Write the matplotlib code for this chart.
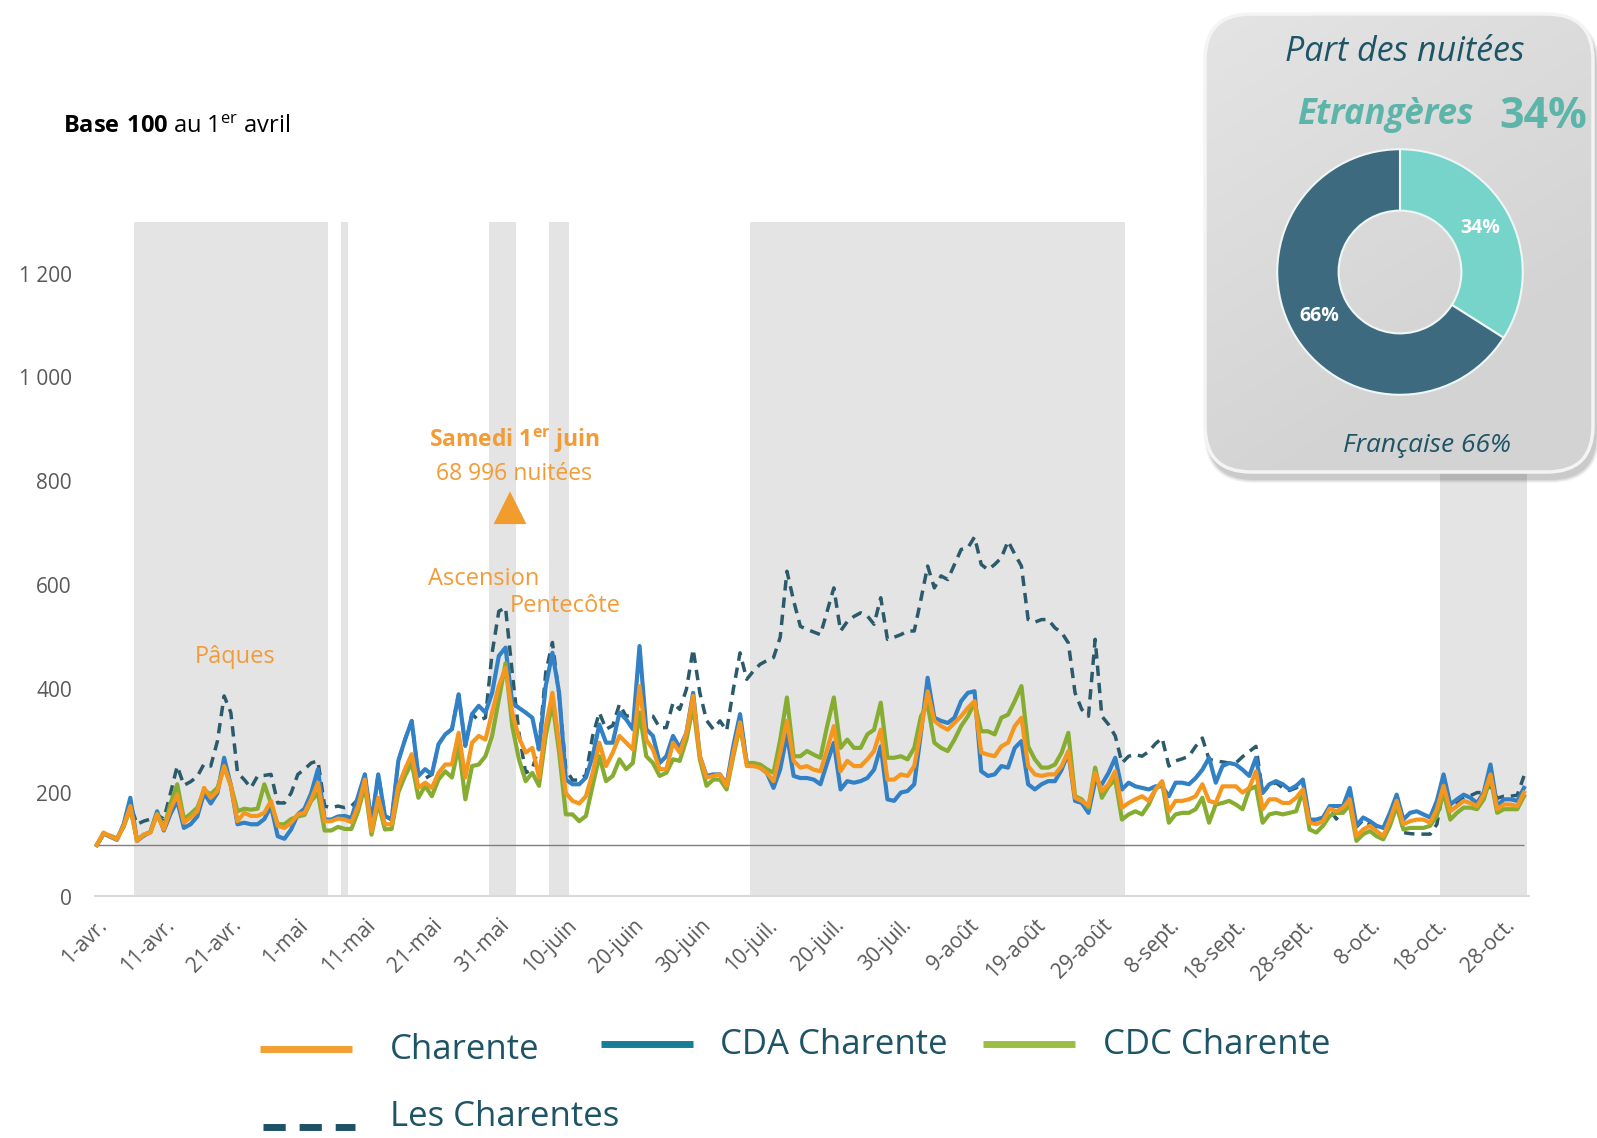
import numpy as np
import matplotlib.pyplot as plt
from matplotlib import font_manager
from matplotlib.lines import Line2D
from matplotlib.patches import FancyBboxPatch

# daily index, base 100 on 1 April (1-avr. .. 31-oct.)
CHARENTE = [
    100, 124, 117, 111, 137, 175, 108, 120, 124, 159,
    130, 169, 197, 143, 153, 165, 210, 191, 204, 252,
    214, 146, 162, 156, 156, 162, 185, 137, 133, 143,
    159, 162, 188, 220, 146, 146, 151, 149, 144, 175,
    226, 127, 191, 140, 140, 214, 246, 275, 210, 220,
    210, 239, 255, 255, 316, 230, 297, 310, 303, 355,
    406, 441, 355, 307, 278, 287, 230, 329, 393, 297,
    200, 185, 180, 194, 239, 297, 252, 278, 310, 297,
    284, 406, 303, 284, 246, 246, 297, 278, 316, 387,
    271, 230, 233, 236, 214, 278, 336, 252, 252, 249,
    239, 223, 278, 339, 262, 249, 252, 245, 242, 284,
    329, 242, 262, 252, 252, 265, 281, 322, 226, 226,
    236, 233, 252, 322, 396, 339, 329, 322, 335, 348,
    364, 377, 278, 274, 271, 290, 297, 329, 345, 252,
    236, 233, 236, 236, 252, 281, 191, 185, 175, 239,
    204, 217, 242, 172, 181, 188, 194, 185, 207, 223,
    165, 185, 185, 188, 194, 217, 185, 181, 213, 213,
    213, 201, 210, 242, 169, 188, 188, 181, 181, 191,
    207, 143, 140, 146, 170, 165, 172, 188, 117, 130,
    137, 127, 117, 149, 185, 140, 146, 149, 149, 143,
    169, 214, 165, 175, 185, 181, 175, 197, 236, 169,
    178, 178, 175, 201,
]
CDA_CHARENTE = [
    100, 122, 116, 110, 140, 191, 108, 118, 125, 165,
    128, 160, 185, 133, 140, 155, 200, 180, 200, 268,
    215, 140, 143, 140, 140, 150, 175, 117, 112, 130,
    159, 170, 200, 246, 149, 149, 155, 156, 152, 194,
    236, 143, 236, 156, 149, 262, 303, 339, 233, 246,
    236, 294, 313, 323, 390, 291, 352, 368, 355, 393,
    464, 480, 374, 364, 355, 345, 284, 406, 470, 393,
    226, 217, 217, 230, 271, 332, 297, 297, 355, 342,
    323, 483, 323, 310, 258, 271, 310, 287, 316, 393,
    271, 233, 236, 236, 217, 291, 352, 258, 255, 249,
    239, 210, 246, 313, 233, 229, 229, 226, 217, 258,
    297, 207, 223, 220, 223, 229, 245, 290, 188, 185,
    201, 204, 217, 316, 422, 345, 339, 335, 345, 377,
    393, 396, 242, 233, 236, 252, 249, 287, 300, 217,
    207, 217, 223, 223, 245, 278, 185, 181, 162, 223,
    217, 239, 268, 207, 220, 213, 210, 207, 213, 213,
    194, 220, 220, 217, 229, 245, 268, 220, 252, 258,
    255, 245, 233, 268, 201, 217, 223, 217, 207, 214,
    226, 149, 149, 153, 175, 175, 175, 210, 137, 153,
    146, 137, 133, 162, 197, 149, 162, 165, 159, 153,
    185, 236, 178, 188, 197, 191, 181, 201, 255, 175,
    188, 188, 185, 210,
]
CDC_CHARENTE = [
    100, 122, 118, 113, 135, 170, 110, 120, 125, 160,
    132, 180, 217, 150, 160, 172, 205, 198, 210, 250,
    215, 165, 170, 168, 170, 217, 180, 140, 140, 150,
    155, 158, 185, 200, 128, 128, 135, 131, 131, 165,
    214, 120, 181, 130, 131, 201, 233, 258, 191, 214,
    194, 226, 242, 230, 291, 188, 252, 255, 271, 310,
    380, 450, 329, 265, 223, 239, 214, 310, 374, 278,
    159, 159, 146, 156, 214, 271, 223, 233, 265, 246,
    258, 355, 271, 258, 233, 239, 265, 262, 303, 368,
    265, 214, 226, 226, 207, 271, 329, 258, 258, 255,
    246, 239, 303, 384, 271, 271, 281, 274, 268, 329,
    384, 287, 303, 287, 287, 313, 322, 374, 268, 268,
    271, 265, 287, 348, 370, 297, 287, 281, 303, 329,
    348, 374, 319, 319, 313, 345, 351, 377, 406, 290,
    265, 249, 249, 255, 278, 316, 194, 188, 172, 249,
    191, 213, 226, 149, 159, 165, 159, 178, 207, 220,
    143, 159, 162, 162, 169, 191, 143, 178, 181, 185,
    178, 169, 207, 213, 143, 159, 162, 159, 162, 165,
    204, 130, 124, 137, 156, 162, 162, 178, 108, 121,
    127, 117, 111, 137, 175, 130, 133, 133, 133, 137,
    156, 201, 149, 162, 172, 172, 169, 188, 230, 162,
    169, 169, 169, 194,
]
LES_CHARENTES = [
    100, 120, 116, 112, 135, 178, 140, 146, 150, 158,
    150, 200, 252, 215, 222, 232, 256, 252, 300, 387,
    355, 239, 226, 210, 233, 234, 236, 181, 181, 200,
    236, 246, 258, 262, 175, 172, 175, 172, 175, 188,
    236, 143, 236, 156, 149, 262, 303, 339, 233, 228,
    236, 294, 313, 323, 390, 291, 352, 340, 345, 470,
    550, 557, 432, 316, 239, 246, 291, 432, 490, 387,
    246, 225, 225, 235, 310, 355, 323, 330, 371, 348,
    350, 355, 350, 348, 326, 326, 374, 361, 400, 477,
    393, 340, 323, 339, 320, 400, 470, 419, 435, 448,
    455, 461, 500, 627, 570, 521, 515, 510, 505, 550,
    595, 512, 530, 540, 547, 541, 525, 576, 496, 500,
    505, 512, 512, 573, 637, 595, 618, 611, 640, 669,
    672, 693, 640, 630, 640, 653, 685, 660, 637, 534,
    529, 534, 534, 518, 509, 489, 393, 361, 348, 496,
    348, 332, 310, 258, 271, 274, 271, 280, 295, 306,
    252, 262, 266, 271, 290, 306, 265, 262, 260, 258,
    258, 270, 280, 290, 200, 215, 220, 210, 205, 210,
    220, 145, 145, 150, 170, 150, 170, 200, 135, 148,
    140, 133, 130, 155, 190, 124, 122, 121, 121, 121,
    140, 210, 170, 180, 190, 195, 201, 201, 215, 190,
    194, 194, 196, 233,
]

# school holidays / bank holiday bridges (first day, last day, as day index)
HOLIDAYS = [(6, 34), (37, 37), (59, 62), (68, 70), (98, 153), (201, 213)]

X_LABELS = ["1-avr.", "11-avr.", "21-avr.", "1-mai", "11-mai", "21-mai",
            "31-mai", "10-juin", "20-juin", "30-juin", "10-juil.", "20-juil.",
            "30-juil.", "9-août", "19-août", "29-août", "8-sept.", "18-sept.",
            "28-sept.", "8-oct.", "18-oct.", "28-oct."]
Y_TICKS = [0, 200, 400, 600, 800, 1000, 1200]
Y_LABELS = ["0", "200", "400", "600", "800", "1 000", "1 200"]

SHARE_LABELS = ["Etrangères", "Française"]
SHARE_VALUES = [34, 66]

W, H = 1597, 1138
TEAL = "#1d5466"
ORANGE_TXT = "#F39C37"


def has_font(name, style="normal"):
    return any(f.name == name and f.style == style
               for f in font_manager.fontManager.ttflist)


NARROW = "Liberation Sans Narrow" if has_font("Liberation Sans Narrow") else "Open Sans"
ITAL = "Open Sans" if has_font("Open Sans", "italic") else "Lato"

plt.rcParams["font.family"] = ["Open Sans", "DejaVu Sans"]
plt.rcParams["mathtext.fontset"] = "custom"
plt.rcParams["mathtext.rm"] = "Open Sans"
plt.rcParams["mathtext.bf"] = "Open Sans:bold"


def fx(px):
    return px / W


def fy(py):
    return 1 - py / H


fig = plt.figure(figsize=(W / 100, H / 100), dpi=100)
ax = fig.add_axes([fx(94), fy(897), fx(1530) - fx(94), fy(221.6) - fy(897)])

days = np.arange(len(CHARENTE))
for start, end in HOLIDAYS:
    ax.axvspan(start - 0.5, end + 0.5, color="#e4e4e4", lw=0, zorder=0)

ax.axhline(0, color="#d9d9d9", lw=3, zorder=1)
ax.hlines(100, days[0], days[-1], color="#7f7f7f", lw=1, zorder=1)

ax.plot(days, LES_CHARENTES, color="#2b5a6b", lw=2.5, dashes=(3, 2), zorder=2)
ax.plot(days, CDA_CHARENTE, color="#3281c6", lw=3, zorder=3)
ax.plot(days, CDC_CHARENTE, color="#86ad32", lw=3, zorder=4)
ax.plot(days, CHARENTE, color="#f5961e", lw=3, zorder=5)

ax.set_xlim(-0.42, 213.9)
ax.set_ylim(0, 1300)
ax.set_yticks(Y_TICKS)
ax.set_yticklabels(Y_LABELS)
ax.set_xticks(days[::10])
ax.set_xticklabels(X_LABELS, rotation=45, ha="right", rotation_mode="anchor")
ax.tick_params(length=0, labelsize=15, labelcolor="#595959")
ax.tick_params(axis="y", pad=16)
ax.tick_params(axis="x", pad=13)
for sp in ax.spines.values():
    sp.set_visible(False)
ax.patch.set_alpha(0)

# annotations
ax.text(20.7, 461, "Pâques", color=ORANGE_TXT, fontsize=17, ha="center", va="center")
ax.text(57.8, 612, "Ascension", color=ORANGE_TXT, fontsize=17, ha="center", va="center")
ax.text(69.9, 561, "Pentecôte", color=ORANGE_TXT, fontsize=17, ha="center", va="center")
ax.text(62.3, 877, r"Samedi 1$^{\mathbf{er}}$ juin", color=ORANGE_TXT, fontsize=16.5,
        fontweight="bold", ha="center", va="center")
ax.text(62.3, 815, "68 996 nuitées", color=ORANGE_TXT, fontsize=16.5, ha="center",
        va="center")
peak = int(np.argmax(CHARENTE))
ax.plot(peak + 0.7, 747, marker="^", markersize=19, color="#F39C2E",
        markeredgewidth=3, markeredgecolor="#F39C2E", zorder=6)

fig.text(fx(63), fy(127), r"$\mathbf{Base\ 100}$ au 1$^{\mathrm{er}}$ avril",
         fontsize=17, va="center", ha="left", color="black")

# legend
legend_items = [
    ("Charente", "#f29f33", "-", 260, 1049, 390, 1050),
    ("CDA Charente", "#177e97", "-", 601, 1044, 720, 1045),
    ("CDC Charente", "#9dbe45", "-", 983, 1044, 1103, 1045),
    ("Les Charentes", "#1e5366", "--", 263, 1127, 390, 1117),
]
for label, col, ls, lx, ly, tx, ty in legend_items:
    line = Line2D([fx(lx), fx(lx + 92)], [fy(ly), fy(ly)], transform=fig.transFigure,
                  color=col, lw=5, solid_capstyle="butt", dash_capstyle="butt")
    if ls == "--":
        line.set_dashes((3.2, 2.0))
    fig.add_artist(line)
    fig.text(fx(tx), fy(ty), label, fontsize=25, color=TEAL, va="center", ha="left",
             family=[NARROW, "DejaVu Sans"])

# share box
bx0, by0, bx1, by1 = 1205, 14, 1593, 472
m = 16
box_ax = fig.add_axes([fx(bx0 - m), fy(by1 + m), (bx1 - bx0 + 2 * m) / W,
                       (by1 - by0 + 2 * m) / H])
box_ax.axis("off")
for i, a in enumerate([0.04, 0.05, 0.06, 0.07]):
    g = 8 - 2 * i
    box_ax.add_patch(FancyBboxPatch((bx0 + 3 - g / 2, by0 + 7 - g / 2), bx1 - bx0 + g,
                                    by1 - by0 + g,
                                    boxstyle=f"round,pad=0,rounding_size={46 + g / 2}",
                                    fc="black", ec="none", alpha=a))
box = FancyBboxPatch((bx0, by0), bx1 - bx0, by1 - by0,
                     boxstyle="round,pad=0,rounding_size=46",
                     fc="#d8d8d8", ec="none")
box_ax.add_patch(box)
gx, gy = np.meshgrid(np.linspace(0, 1, 200), np.linspace(0, 1, 200))
shade = 0.895 - 0.065 * np.clip(0.5 * gx + 0.9 * gy, 0, 1)
rgb = np.dstack([shade, shade, shade])
img = box_ax.imshow(rgb, origin="upper", extent=(bx0, bx1, by1, by0),
                    aspect="auto", zorder=2)
img.set_clip_path(box)
edge = FancyBboxPatch((bx0, by0), bx1 - bx0, by1 - by0,
                      boxstyle="round,pad=0,rounding_size=46",
                      fc="none", ec="#f4f4f4", lw=2.5, zorder=3)
box_ax.add_patch(edge)
box_ax.set_xlim(bx0 - m, bx1 + m)
box_ax.set_ylim(by1 + m, by0 - m)

pie_ax = fig.add_axes([fx(1400 - 124), fy(272 + 124), 248 / W, 248 / H])
wedges, texts, autotexts = pie_ax.pie(
    SHARE_VALUES, colors=["#76d4ca", "#3e6a7f"], startangle=90, counterclock=False,
    wedgeprops=dict(width=0.5, edgecolor="#eef6f6", linewidth=1.5),
    autopct=lambda p: f"{p:.0f}%", pctdistance=0.75)
for t in autotexts:
    t.set_color("white")
    t.set_fontsize(14)
    t.set_fontweight("bold")
pie_ax.set_xlim(-1.01, 1.01)
pie_ax.set_ylim(-1.01, 1.01)

fig.text(fx(1405), fy(52), "Part des nuitées", fontsize=24.5, style="italic",
         color=TEAL, ha="center", va="center", family=[ITAL, "DejaVu Sans"])
fig.text(fx(1385), fy(115), SHARE_LABELS[0], fontsize=25, style="italic",
         fontweight="bold", color="#5db5aa", ha="center", va="center",
         family=[ITAL, "DejaVu Sans"])
fig.text(fx(1543), fy(117), f"{SHARE_VALUES[0]}%", fontsize=31, fontweight="bold",
         color="#5db5aa", ha="center", va="center")
fig.text(fx(1427), fy(445), f"{SHARE_LABELS[1]} {SHARE_VALUES[1]}%", fontsize=19,
         style="italic", color=TEAL, ha="center", va="center",
         family=[ITAL, "DejaVu Sans"])

fig.savefig("out.png", dpi=100)
